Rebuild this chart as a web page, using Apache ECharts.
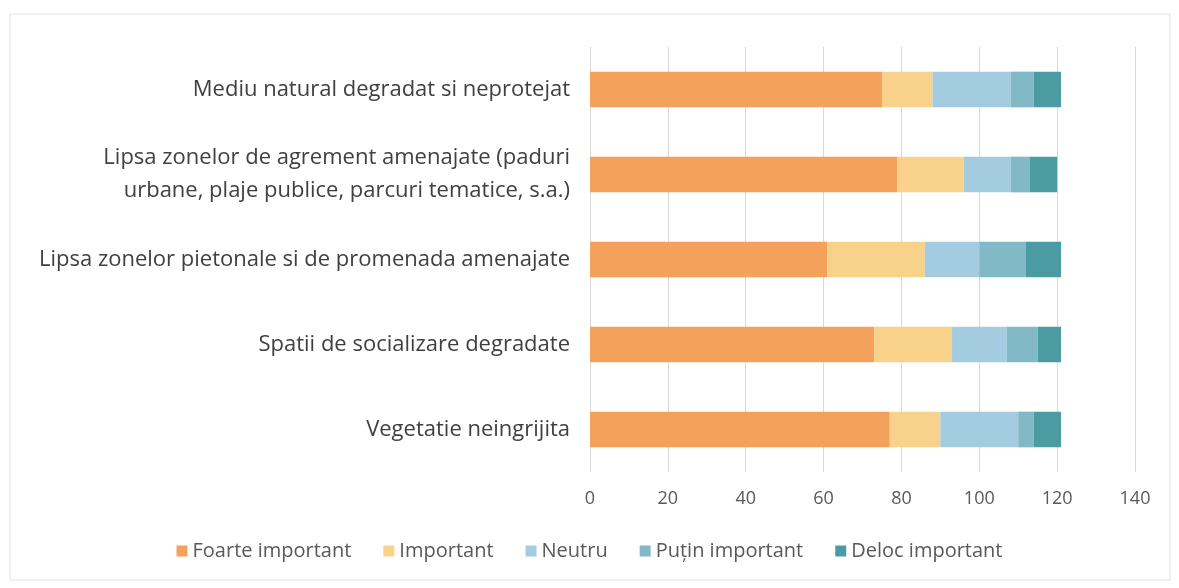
<!DOCTYPE html>
<html>
<head>
<meta charset="utf-8">
<script src="https://cdn.jsdelivr.net/npm/echarts@6/dist/echarts.min.js"></script>
<style>
  html, body { margin: 0; padding: 0; background: #fff; }
  #chart { width: 1179px; height: 588px; }
</style>
</head>
<body>
<div id="chart"></div>
<script>
var categories = [
  'Mediu natural degradat si neprotejat',
  'Lipsa zonelor de agrement amenajate (paduri\nurbane, plaje publice, parcuri tematice, s.a.)',
  'Lipsa zonelor pietonale si de promenada amenajate',
  'Spatii de socializare degradate',
  'Vegetatie neingrijita'
]
var seriesNames = ['Foarte important', 'Important', 'Neutru', 'Puțin important', 'Deloc important']
var foarte = [75, 79, 61, 73, 77]
var important = [13, 17, 25, 20, 13]
var neutru = [20, 12, 14, 14, 20]
var putin = [6, 5, 12, 8, 4]
var deloc = [7, 7, 9, 6, 7]
var colors = ['#F4A15C', '#F8D28A', '#A3CCE0', '#82B9C6', '#4B9CA2']

var values = [foarte, important, neutru, putin, deloc]
var font = '"Open Sans", "Noto Sans", sans-serif'

var series = seriesNames.map(function(name, i) {
  return {
    name: name,
    type: 'bar',
    stack: 'total',
    barCategoryGap: '58%',
    itemStyle: { color: colors[i] },
    data: values[i]
  }
})

var myChart = echarts.init(document.getElementById('chart'))
myChart.setOption({
  animation: false,
  backgroundColor: '#fff',
  textStyle: { fontFamily: font },
  graphic: [{
    type: 'rect',
    shape: { x: 10, y: 14, width: 1160, height: 566 },
    style: { fill: 'none', stroke: '#e2e2e2', lineWidth: 1 }
  }],
  grid: { left: 590, right: 44, top: 47, bottom: 116 },
  legend: {
    bottom: 22,
    left: 'center',
    itemWidth: 11,
    itemHeight: 11,
    itemGap: 32,
    icon: 'rect',
    textStyle: { fontSize: 20, color: '#595959', fontFamily: font },
    data: seriesNames
  },
  xAxis: {
    type: 'value',
    min: 0,
    max: 140,
    interval: 20,
    axisLine: { show: false },
    axisTick: { show: false },
    axisLabel: { fontSize: 18, color: '#595959', margin: 18, fontFamily: font },
    splitLine: { lineStyle: { color: '#d9d9d9' } }
  },
  yAxis: {
    type: 'category',
    inverse: true,
    data: categories,
    axisLine: { show: false },
    axisTick: { show: false },
    axisLabel: { fontSize: 22, color: '#404040', margin: 20, lineHeight: 33, align: 'right', fontFamily: font }
  },
  series: series
})
</script>
</body>
</html>
